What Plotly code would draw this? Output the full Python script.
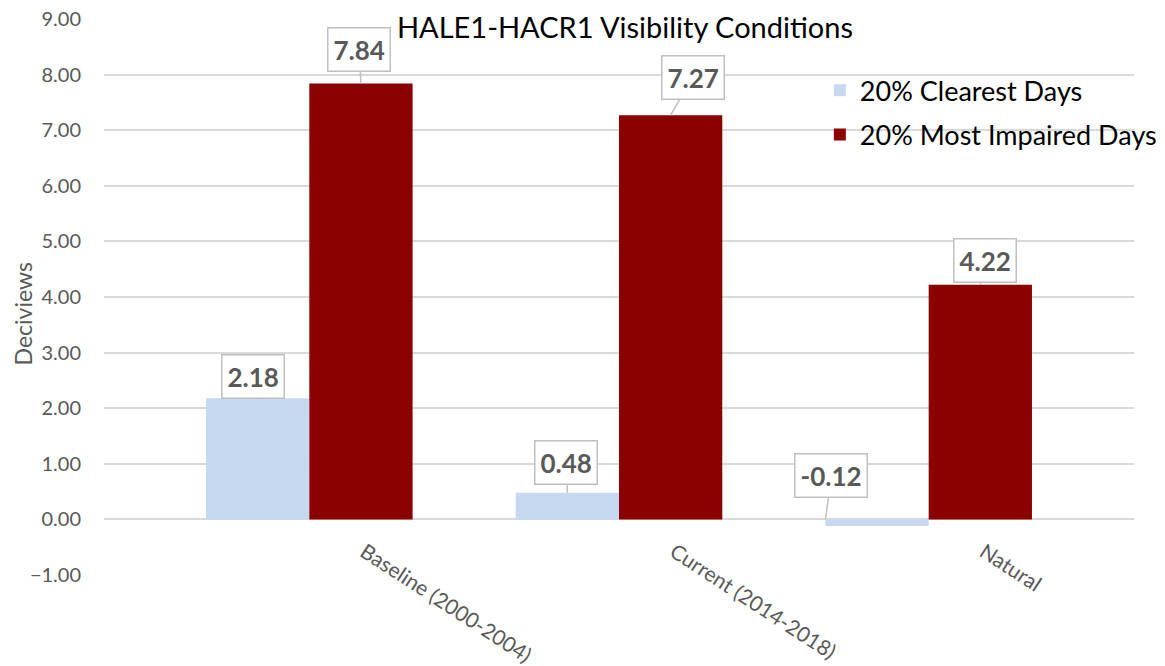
import plotly.graph_objects as go

categories = ["Baseline (2000-2004)", "Current (2014-2018)", "Natural"]
clearest = [2.18, 0.48, -0.12]
impaired = [7.84, 7.27, 4.22]
series_names = ["20% Clearest Days", "20% Most Impaired Days"]
colors = ["#C6D9F0", "#8B0000"]
y_ticks = [-1, 0, 1, 2, 3, 4, 5, 6, 7, 8, 9]

# callout box offsets (pixels) for each label
clear_offsets = [(-5, -22), (-1, -30), (6, -44)]
impaired_offsets = [(-2, -34), (22, -38), (5, -24)]

xs = list(range(len(categories)))

fig = go.Figure()
fig.add_trace(go.Bar(x=xs, y=clearest, name=series_names[0], marker_color=colors[0],
                     marker_line_width=0, legendgroup="a"))
fig.add_trace(go.Bar(x=xs, y=impaired, name=series_names[1], marker_color=colors[1],
                     marker_line_width=0, legendgroup="b"))

bar_half = 1 / 6
label_font = dict(family="Lato, Carlito, sans-serif", size=26, color="#595959")


def callout(xv, yv, v, off):
    fig.add_annotation(x=xv, y=yv, xref="x", yref="y",
                       text="<b>%.2f</b>" % v, showarrow=True, arrowhead=0, arrowwidth=1.5,
                       arrowcolor="#BFBFBF", ax=off[0], ay=off[1], font=label_font,
                       bgcolor="white", bordercolor="#BFBFBF", borderwidth=1.5, borderpad=5)


for i, v in enumerate(clearest):
    if v >= 0:
        callout(i - bar_half, v, v, clear_offsets[i])
    else:
        # negative bar: pointer goes to the bar's top-left corner
        callout(i - 2 * bar_half, 0, v, clear_offsets[i])
for i, v in enumerate(impaired):
    callout(i + bar_half, v, v, impaired_offsets[i])

# y-axis title
fig.add_annotation(text="Deciviews", xref="paper", yref="paper", x=-0.0785, y=0.469,
                   xanchor="center", yanchor="middle", textangle=-90, showarrow=False,
                   font=dict(size=23, color="#595959"))

W, H = 1165, 666
fig.update_layout(
    width=W, height=H,
    margin=dict(l=96, r=36, t=11, b=99),
    paper_bgcolor="white", plot_bgcolor="white",
    barmode="group", bargap=0.333, bargroupgap=0,
    font=dict(family="Lato, Carlito, sans-serif", color="#595959"),
    title=dict(text="HALE1-HACR1 Visibility Conditions", x=617 / W, xref="container",
               xanchor="center", y=1 - 20 / H, yanchor="middle",
               font=dict(size=29, color="#000000")),
    legend=dict(x=0.695, y=0.915, xanchor="left", yanchor="top",
                font=dict(size=27, color="#000000"), bgcolor="rgba(0,0,0,0)",
                traceorder="grouped", tracegroupgap=6),
    showlegend=True,
)
fig.update_xaxes(range=[-0.663, 2.663], tickmode="array", tickvals=xs, ticktext=categories,
                 tickangle=33, tickfont=dict(size=21, color="#595959"),
                 showgrid=False, zeroline=False, showline=False, ticks="",
                 ticklabelshift=55, ticklabelstandoff=-40, automargin=False,
                 ticklabeloverflow="allow")
fig.update_yaxes(range=[-1, 9], tickmode="array", tickvals=y_ticks, tickformat=".2f",
                 tickfont=dict(size=20, color="#595959"),
                 showgrid=True, gridcolor="#D9D9D9", gridwidth=1.5,
                 zeroline=True, zerolinecolor="#D9D9D9", zerolinewidth=1.5,
                 ticks="", ticklabelstandoff=22, automargin=False,
                 ticklabeloverflow="allow")

fig.write_html("out.html")
